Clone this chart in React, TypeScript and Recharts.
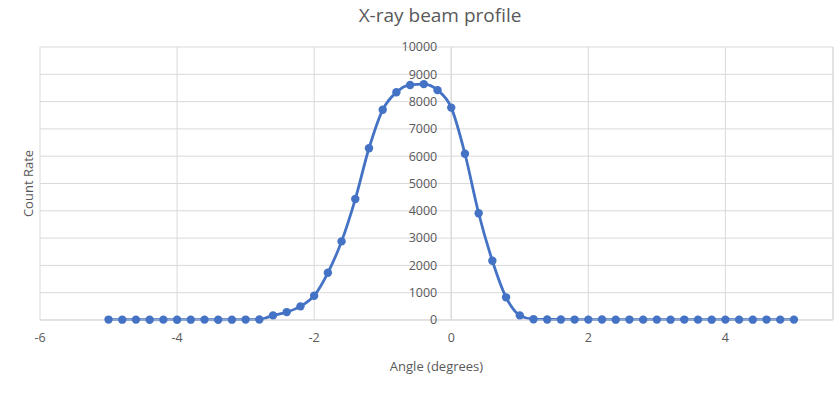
import { ComposedChart, Line, XAxis, YAxis, CartesianGrid, ReferenceLine } from 'recharts'

const angles = [
  -5, -4.8, -4.6, -4.4, -4.2, -4, -3.8, -3.6, -3.4, -3.2, -3, -2.8, -2.6, -2.4, -2.2, -2,
  -1.8, -1.6, -1.4, -1.2, -1, -0.8, -0.6, -0.4, -0.2, 0, 0.2, 0.4, 0.6, 0.8, 1, 1.2,
  1.4, 1.6, 1.8, 2, 2.2, 2.4, 2.6, 2.8, 3, 3.2, 3.4, 3.6, 3.8, 4, 4.2, 4.4, 4.6, 4.8, 5,
]
const counts = [
  15, 12, 14, 10, 13, 11, 12, 14, 10, 12, 15, 18, 170, 290, 500, 890,
  1730, 2880, 4430, 6290, 7700, 8340, 8610, 8640, 8420, 7780, 6090, 3910, 2170, 830, 170, 30,
  20, 18, 15, 14, 16, 12, 15, 13, 14, 12, 15, 13, 12, 14, 13, 12, 15, 13, 14,
]
const xTicks = [-6, -4, -2, 0, 2, 4]
const yTicks = [0, 1000, 2000, 3000, 4000, 5000, 6000, 7000, 8000, 9000, 10000]

const X_MIN = -6
const X_MAX = 5.57
const W = 834
const H = 396
const Y_W = 1
const M = { top: 47, right: 1, bottom: 41, left: 40 - Y_W }
const BLUE = '#4472C4'
const TEXT = '#595959'
const GRID = '#d9d9d9'
const FONT = '"Open Sans", sans-serif'

const data = angles.map((a, i) => ({ angle: a, count: counts[i] }))

// y labels sit beside the x=0 line, as in the spreadsheet chart
const plotLeft = M.left + Y_W
const plotW = W - plotLeft - M.right
const zeroX = plotLeft + (plotW * (0 - X_MIN)) / (X_MAX - X_MIN)

function YTick({ y, payload }: any) {
  return (
    <text x={zeroX - 14} y={y} dy="0.35em" textAnchor="end" fill={TEXT} fontSize={12.5} fontFamily={FONT}>
      {payload.value}
    </text>
  )
}

export default function App() {
  return (
    <div style={{ position: 'absolute', left: 0, top: 0, width: W, height: H, background: '#fff' }}>
      <div style={{ position: 'absolute', left: 0, width: 880, top: 2, textAlign: 'center', fontFamily: FONT, fontSize: 19, color: TEXT }}>
        X-ray beam profile
      </div>
      <ComposedChart width={W} height={H} data={data} margin={M}>
        <CartesianGrid stroke={GRID} />
        <XAxis
          dataKey="angle"
          type="number"
          domain={[X_MIN, X_MAX]}
          allowDataOverflow
          ticks={xTicks}
          tickLine={false}
          axisLine={{ stroke: GRID }}
          tickMargin={7}
          height={35}
          tick={{ fill: TEXT, fontSize: 12.5, fontFamily: FONT }}
          label={{ value: 'Angle (degrees)', position: 'bottom', offset: 7, fill: TEXT, fontSize: 13, fontFamily: FONT }}
        />
        <YAxis
          type="number"
          domain={[0, 10000]}
          ticks={yTicks}
          width={Y_W}
          axisLine={false}
          tickLine={false}
          tick={YTick}
          label={{ value: 'Count Rate', angle: -90, position: 'left', offset: 11, fill: TEXT, fontSize: 13, fontFamily: FONT, style: { textAnchor: 'middle' } }}
        />
        <ReferenceLine x={X_MAX} stroke={GRID} />
        <ReferenceLine x={0} stroke={GRID} />
        <Line
          dataKey="count"
          type="monotone"
          stroke={BLUE}
          strokeWidth={2.8}
          dot={{ r: 4.2, fill: BLUE, stroke: BLUE, strokeWidth: 0 }}
          isAnimationActive={false}
        />
      </ComposedChart>
    </div>
  )
}
